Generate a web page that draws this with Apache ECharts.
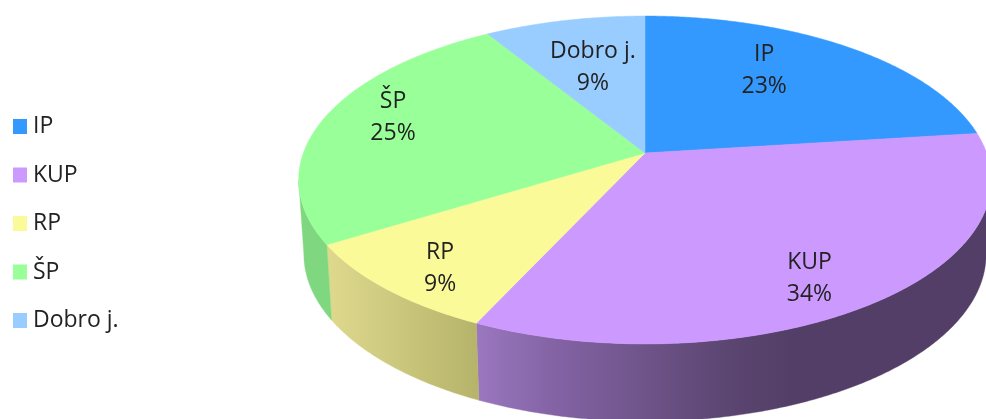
<!DOCTYPE html>
<html>
<head>
<meta charset="utf-8">
<script src="https://cdn.jsdelivr.net/npm/echarts@6/dist/echarts.min.js"></script>
<style>html,body{margin:0;padding:0;background:#fff}#c{width:986px;height:419px}</style>
</head>
<body>
<div id="c"></div>
<script>
var categories = ['IP', 'KUP', 'RP', 'ŠP', 'Dobro j.'];
var values = [23.0, 33.9, 9.3, 25.0, 8.8];
var faceColors = ['#3399FF', '#CC99FF', '#FBFA99', '#99FF99', '#99CCFF'];

// perspective projection of the disc
var CX = 645, CY = 153, A = 341.6, B = 159.5, K = 0.1646;
var BOTTOM_Y = 226.6, BOTTOM_SX = 0.985, BOTTOM_SY = 1.02;
var VIS_START = 99.5, VIS_END = 260.5;
var total = values.reduce(function (a, b) { return a + b; }, 0);

function topPt(deg, f) {
  if (f === undefined) f = 1;
  var t = deg * Math.PI / 180, X = Math.sin(t) * f, Y = -Math.cos(t) * f, d = 1 - K * Y;
  return [CX + A * X / d, CY + B * Y / d];
}
function bottomPt(deg) {
  var p = topPt(deg);
  return [CX + BOTTOM_SX * (p[0] - CX), BOTTOM_Y + BOTTOM_SY * (p[1] - CY)];
}
function range(i) {
  var s = 0;
  for (var j = 0; j < i; j++) s += values[j];
  return [s / total * 360, (s + values[i]) / total * 360];
}
function arc(fn, a, b) {
  var pts = [], n = Math.max(2, Math.ceil(Math.abs(b - a) * 2));
  for (var k = 0; k <= n; k++) pts.push(fn(a + (b - a) * k / n));
  return pts;
}
var G = echarts.graphic.LinearGradient;
var sideFills = [
  '#3a6ea8',
  new G(477, 0, 991, 0, [{offset: 0, color: '#9A77BF'}, {offset: 0.14, color: '#8564A6'}, {offset: 0.48, color: '#5C4672'}, {offset: 0.62, color: '#523E66'}, {offset: 1, color: '#523E66'}], true),
  new G(331, 0, 481, 0, [{offset: 0, color: '#DDD88C'}, {offset: 1, color: '#B5B36A'}], true),
  '#7FD880',
  '#6a90b8'
];
var labelOffsets = [[-7, -16], [33, 42], [-58, 38], [-57, -14], [-1, -1]];

function renderSide(params, api) {
  var r = range(params.dataIndex), a = Math.max(r[0], VIS_START), b = Math.min(r[1], VIS_END);
  if (a >= b) return {type: 'group', children: []};
  var pts = arc(topPt, a, b).concat(arc(bottomPt, a, b).reverse());
  var fill = sideFills[params.dataIndex];
  return {type: 'polygon', shape: {points: pts}, style: {fill: fill, stroke: fill, lineWidth: 0.4}};
}
function makeTop(i) {
  return function (params, api) {
    var r = range(i), pts = [[CX, CY]].concat(arc(topPt, r[0], r[1]));
    var mid = topPt((r[0] + r[1]) / 2, 0.6), off = labelOffsets[i];
    return {type: 'group', children: [
      {type: 'polygon', shape: {points: pts}, style: {fill: faceColors[i], stroke: faceColors[i], lineWidth: 0.5}},
      {type: 'text', z2: 10, style: {
        text: categories[i] + '\n' + Math.round(api.value(0) / total * 100) + '%',
        x: mid[0] + off[0], y: mid[1] + off[1], align: 'center', verticalAlign: 'middle',
        font: '23px "Open Sans"', lineHeight: 32, fill: '#222222'
      }}
    ]};
  };
}
var chartSeries = [{type: 'custom', name: 'sides', coordinateSystem: 'none', silent: true, z: 1, renderItem: renderSide, data: values.slice()}];
categories.forEach(function (c, i) {
  chartSeries.push({type: 'custom', name: c, coordinateSystem: 'none', z: 2, renderItem: makeTop(i),
    itemStyle: {color: faceColors[i]}, data: [values[i]]});
});
var chart = echarts.init(document.getElementById('c'), null, {renderer: 'canvas'});
chart.setOption({
  animation: false,
  backgroundColor: '#fff',
  tooltip: {show: false},
  legend: {
    data: categories, orient: 'vertical', left: 13, top: 115, itemWidth: 14, itemHeight: 15, itemGap: 25.5,
    icon: 'rect', selectedMode: false, padding: 0,
    textStyle: {fontFamily: 'Open Sans', fontSize: 23, lineHeight: 20, color: '#222222', padding: [0, 0, 0, 1]}
  },
  series: chartSeries
});
</script>
</body>
</html>
